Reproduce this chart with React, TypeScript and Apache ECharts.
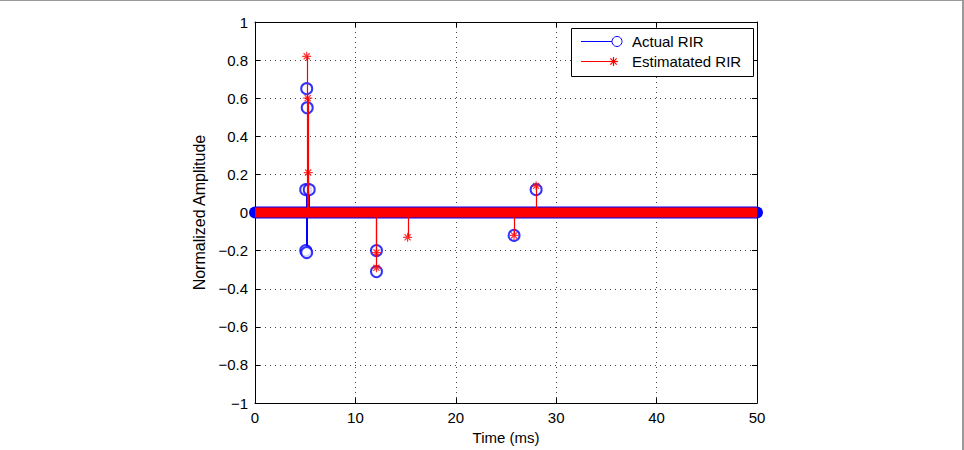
import React, { useEffect, useRef } from "react";
import * as echarts from "echarts";

// Time (ms) and normalized amplitude of the non-zero taps
const actualRIR: [number, number][] = [
  [5.05, 0.12],
  [5.15, 0.65],
  [5.05, -0.2],
  [5.2, 0.55],
  [5.15, -0.21],
  [5.4, 0.12],
  [12.1, -0.2],
  [12.1, -0.31],
  [25.8, -0.12],
  [28.0, 0.12],
];
const estimatedRIR: [number, number][] = [
  [5.15, 0.82],
  [5.25, 0.6],
  [5.3, 0.21],
  [12.1, -0.21],
  [12.1, -0.29],
  [15.2, -0.13],
  [25.8, -0.12],
  [28.0, 0.14],
];
// zero-valued taps span the whole window
const zeroSpan: [number, number][] = [
  [0, 0],
  [50, 0],
];
const xTicks = { min: 0, max: 50, interval: 10 };
const yTicks = { min: -1, max: 1, interval: 0.2 };
const legendNames = ["Actual RIR", "Estimatated RIR"];

const BLUE = "#0000ff";
const RED = "#ff0000";
const FONT = "'Liberation Sans', Arial, Helvetica, sans-serif";
const ASTERISK = "path://M5,0L5,10M0,5L10,5M1.6,1.6L8.4,8.4M1.6,8.4L8.4,1.6";

function stem(color: string, width: number) {
  return (params: any, api: any) => {
    const x = api.value(0);
    const y = api.value(1);
    const p0 = api.coord([x, 0]);
    const p1 = api.coord([x, y]);
    const px = Math.round(p0[0]) + 0.5;
    return {
      type: "line",
      shape: { x1: px, y1: p0[1], x2: px, y2: p1[1] },
      style: { stroke: color, lineWidth: width },
    };
  };
}

const fmt = (v: number) => {
  const r = parseFloat(v.toFixed(1));
  if (r === 0) return "0";
  return (r < 0 ? "\u2212" : "") + String(Math.abs(r));
};

export default function App() {
  const ref = useRef<HTMLDivElement>(null);
  useEffect(() => {
    if (!ref.current) return;
    document.body.style.margin = "0";
    document.body.style.overflow = "hidden";
    const chart = echarts.init(ref.current, undefined, { renderer: "svg" });
    const axisCommon = {
      type: "value" as const,
      axisLine: { show: true, onZero: false, lineStyle: { color: "#000", width: 1 } },
      axisTick: { show: true, inside: true, length: 5, lineStyle: { color: "#000" } },
    };
    const gridLine = {
      show: true,
      lineStyle: { color: "#444", type: [1, 4], width: 1 },
    };
    const Z = 100;
    chart.setOption({
      animation: false,
      backgroundColor: "#fff",
      grid: { left: 255, right: 207, top: 22, bottom: 41, containLabel: false },
      xAxis: [
        {
          ...axisCommon,
          ...xTicks,
          position: "bottom",
          name: "Time (ms)",
          nameLocation: "middle",
          nameGap: 26,
          nameTextStyle: { color: "#000", fontSize: 15, fontFamily: FONT },
          axisLabel: { color: "#000", fontSize: 15, fontFamily: FONT, margin: 7 },
          splitLine: gridLine,
        },
        {
          ...axisCommon,
          ...xTicks,
          position: "top",
          axisLabel: { show: false },
          splitLine: { show: false },
        },
      ],
      yAxis: [
        {
          ...axisCommon,
          ...yTicks,
          position: "left",
          name: "Normalized Amplitude",
          nameLocation: "middle",
          nameGap: 39,
          nameTextStyle: { color: "#000", fontSize: 16, fontFamily: FONT },
          axisLabel: { color: "#000", fontSize: 15, fontFamily: FONT, margin: 7, formatter: fmt },
          splitLine: gridLine,
        },
        {
          ...axisCommon,
          ...yTicks,
          position: "right",
          axisLabel: { show: false },
          splitLine: { show: false },
        },
      ],
      series: [
        {
          type: "line",
          name: "actual-zero",
          data: zeroSpan,
          symbol: "none",
          lineStyle: { color: BLUE, width: 12, cap: "round" },
          z: 2,
        },
        {
          type: "custom",
          name: "actual-stem",
          data: actualRIR,
          renderItem: stem(BLUE, 1),
          z: 3,
        },
        {
          type: "scatter",
          name: legendNames[0],
          data: actualRIR,
          symbol: "emptyCircle",
          symbolSize: 11,
          itemStyle: { color: BLUE, borderColor: BLUE, borderWidth: 1 },
          z: 4,
        },
        {
          type: "line",
          name: "est-zero",
          data: zeroSpan,
          symbol: "none",
          lineStyle: { color: RED, width: 10, cap: "butt" },
          z: 5,
        },
        {
          type: "custom",
          name: "est-stem",
          data: estimatedRIR,
          renderItem: stem(RED, 1.2),
          z: 6,
        },
        {
          type: "scatter",
          name: legendNames[1],
          data: estimatedRIR,
          symbol: ASTERISK,
          symbolSize: 9,
          itemStyle: { color: "none", borderColor: RED, borderWidth: 1.2 },
          z: 7,
        },
      ],
      graphic: [
        {
          type: "line",
          shape: { x1: 0, y1: 0.5, x2: 964, y2: 0.5 },
          style: { stroke: "#999", lineWidth: 1 },
          z: Z,
        },
        {
          type: "line",
          shape: { x1: 963, y1: 0, x2: 963, y2: 450 },
          style: { stroke: "#999", lineWidth: 2 },
          z: Z,
        },
        {
          type: "group",
          left: 571,
          top: 28,
          z: Z,
          children: [
            {
              type: "rect",
              z: Z,
              shape: { x: 0.5, y: 0.5, width: 182, height: 48 },
              style: { fill: "#fff", stroke: "#000", lineWidth: 1 },
            },
            {
              type: "line",
              z: Z + 1,
              shape: { x1: 10, y1: 13.5, x2: 41, y2: 13.5 },
              style: { stroke: BLUE, lineWidth: 1 },
            },
            {
              type: "circle",
              z: Z + 1,
              shape: { cx: 46, cy: 13.5, r: 5 },
              style: { fill: "#fff", stroke: BLUE, lineWidth: 1 },
            },
            {
              type: "text",
              z: Z + 1,
              x: 61,
              y: 13.5,
              style: {
                text: legendNames[0],
                fill: "#000",
                fontSize: 15,
                fontFamily: FONT,
                verticalAlign: "middle",
              },
            },
            {
              type: "line",
              z: Z + 1,
              shape: { x1: 10, y1: 33.5, x2: 42, y2: 33.5 },
              style: { stroke: RED, lineWidth: 1 },
            },
            {
              type: "line",
              z: Z + 1,
              shape: { x1: 42.5, y1: 29, x2: 42.5, y2: 38 },
              style: { stroke: RED, lineWidth: 1.2 },
            },
            {
              type: "line",
              z: Z + 1,
              shape: { x1: 38, y1: 33.5, x2: 47, y2: 33.5 },
              style: { stroke: RED, lineWidth: 1.2 },
            },
            {
              type: "line",
              z: Z + 1,
              shape: { x1: 39.3, y1: 30.3, x2: 45.7, y2: 36.7 },
              style: { stroke: RED, lineWidth: 1.2 },
            },
            {
              type: "line",
              z: Z + 1,
              shape: { x1: 39.3, y1: 36.7, x2: 45.7, y2: 30.3 },
              style: { stroke: RED, lineWidth: 1.2 },
            },
            {
              type: "text",
              z: Z + 1,
              x: 61,
              y: 33.5,
              style: {
                text: legendNames[1],
                fill: "#000",
                fontSize: 15,
                fontFamily: FONT,
                verticalAlign: "middle",
              },
            },
          ],
        },
      ],
    });
    return () => chart.dispose();
  }, []);
  return (
    <div
      ref={ref}
      style={{ position: "absolute", left: 0, top: 0, width: 964, height: 450 }}
    />
  );
}
